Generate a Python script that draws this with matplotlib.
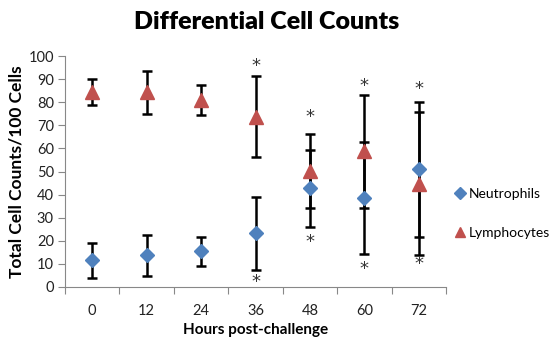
import matplotlib
matplotlib.use("Agg")
import matplotlib.pyplot as plt
import numpy as np

hours = ["0", "12", "24", "36", "48", "60", "72"]
neut_mean = [11.5, 13.7, 15.4, 23.3, 42.7, 38.5, 50.9]
neut_err = [7.4, 8.8, 6.2, 15.8, 16.8, 24.4, 29.4]
lymph_mean = [84.5, 84.2, 81.0, 73.8, 50.2, 58.8, 44.8]
lymph_err = [5.5, 9.2, 6.5, 17.6, 16.0, 24.5, 31.0]
star_hi_idx = [3, 4, 5, 6]
star_hi_y = [95.5, 73.5, 87.0, 85.8]
star_lo_idx = [3, 4, 5, 6]
star_lo_y = [2.3, 19.5, 8.0, 9.8]

FONT = ["Lato", "DejaVu Sans"]
plt.rcParams['font.family'] = FONT

fig = plt.figure(figsize=(5.54, 3.43), dpi=100)
ax = fig.add_axes([65/554, 1-287/343, (446-65)/554, (287-56)/343])

x = np.arange(len(hours))
blue = "#4F81BD"
red = "#C0504D"

ax.errorbar(x, neut_mean, yerr=neut_err, fmt='none', ecolor='black',
            elinewidth=1.8, capsize=3.5, capthick=1.8, zorder=2)
ax.errorbar(x, lymph_mean, yerr=lymph_err, fmt='none', ecolor='black',
            elinewidth=1.8, capsize=3.5, capthick=1.8, zorder=2)
ax.plot(x, neut_mean, linestyle='none', marker='D', markersize=7.5,
        color=blue, label="Neutrophils", zorder=3)
ax.plot(x, lymph_mean, linestyle='none', marker='^', markersize=9.5,
        color=red, label="Lymphocytes", zorder=3)

for i, yv in zip(star_hi_idx, star_hi_y):
    ax.text(x[i], yv, "*", ha='center', va='center', fontsize=13, color='#333333',
            family=["DejaVu Sans"])
for i, yv in zip(star_lo_idx, star_lo_y):
    ax.text(x[i], yv, "*", ha='center', va='center', fontsize=13, color='#333333',
            family=["DejaVu Sans"])

ax.set_xlim(-0.5, len(hours) - 0.5)
ax.set_ylim(0, 100)
ax.set_yticks(np.arange(0, 101, 10))
ax.set_xticks(x)
ax.set_xticklabels(hours)
ax.set_xticks(np.arange(-0.5, len(hours), 1.0), minor=True)
ax.tick_params(axis='x', which='major', length=0, pad=12, labelsize=10.5, labelcolor='#222222')
ax.tick_params(axis='x', which='minor', length=5, color='#888888', width=0.8, direction='out')
ax.tick_params(axis='y', length=5, color='#888888', width=0.8, labelsize=10.5, labelcolor='#222222', pad=3)

for s in ['top', 'right']:
    ax.spines[s].set_visible(False)
for s in ['left', 'bottom']:
    ax.spines[s].set_color('#888888')
    ax.spines[s].set_linewidth(0.8)

ax.set_xlabel("Hours post-challenge", fontsize=11, fontweight='bold', labelpad=4)
ax.set_ylabel("Total Cell Counts/100 Cells", fontsize=12.5, fontweight='bold', labelpad=3)
fig.text(0.482, 1-22/343, "Differential Cell Counts", ha='center', va='center',
         fontsize=18, fontweight='heavy')

leg = fig.legend(loc='upper left', bbox_to_anchor=(455/554, 1-188/343), frameon=False,
                 fontsize=10, handlelength=0.7, handletextpad=0.3, labelspacing=1.95,
                 borderaxespad=0, borderpad=0, markerscale=0.8)

fig.savefig("out.png", dpi=100)
